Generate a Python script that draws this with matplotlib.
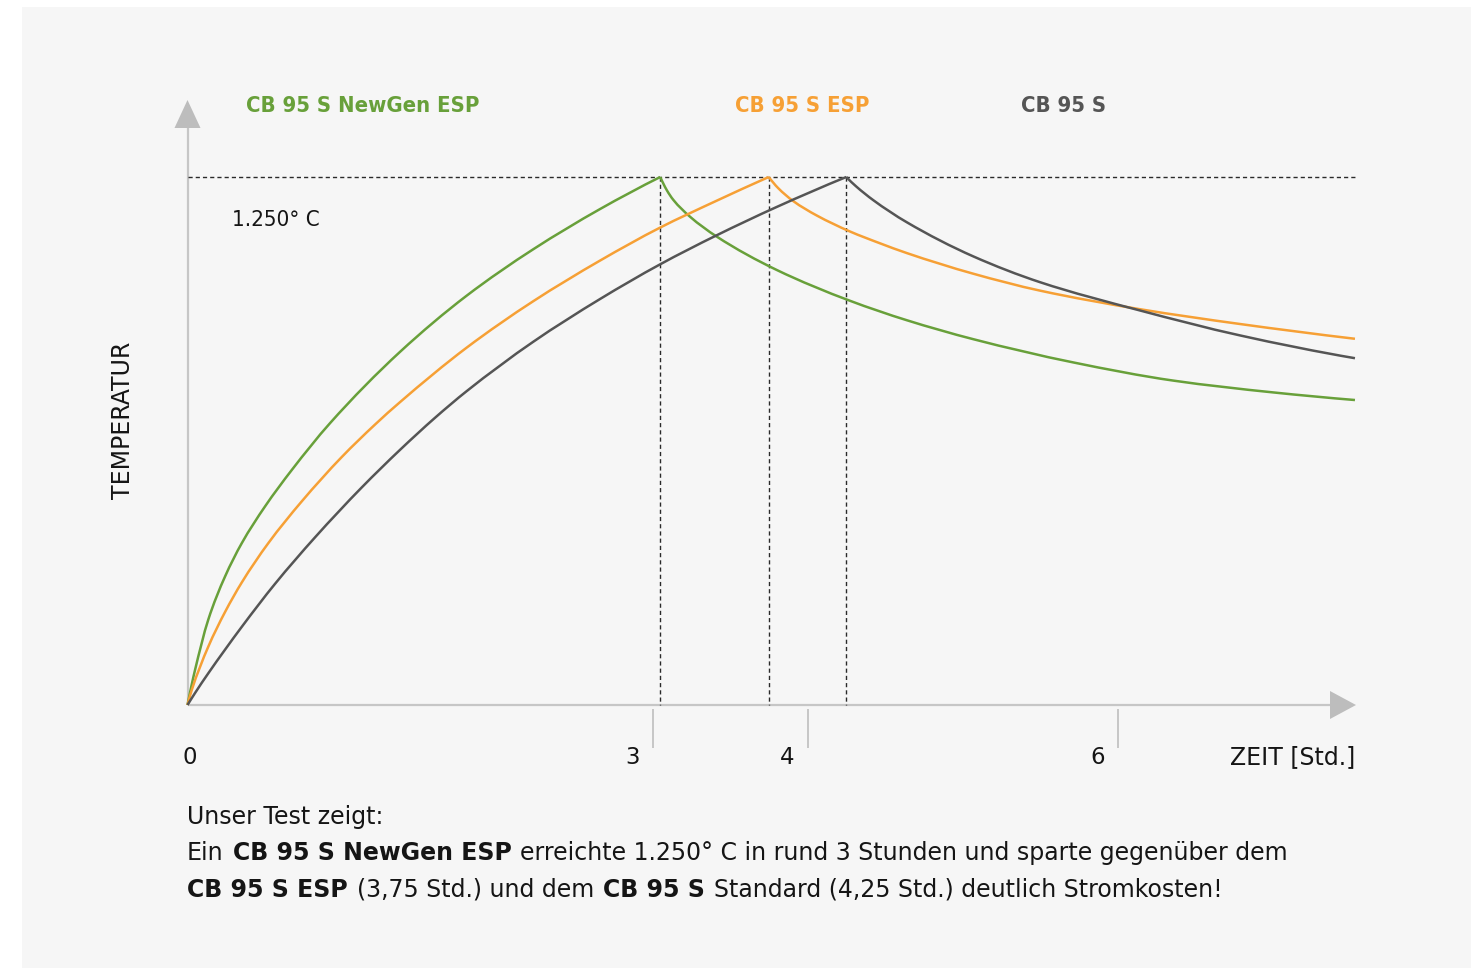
import numpy as np
import matplotlib
matplotlib.use("Agg")
import matplotlib.pyplot as plt
from matplotlib.patches import Rectangle, Polygon, PathPatch
from matplotlib.path import Path
from matplotlib import transforms
from matplotlib import font_manager as fm

# ---------------------------------------------------------------------------
# Data: kiln temperature (°C) over time (hours) for three kiln models
# ---------------------------------------------------------------------------
SERIES = ["CB 95 S NewGen ESP", "CB 95 S ESP", "CB 95 S"]
TARGET_TEMP = 1250
PEAK_TIMES = [3.05, 3.75, 4.25]

newgen_heat_t = [0, 0.027, 0.048, 0.134, 0.242, 0.350, 0.500, 0.672, 0.919,
                 1.371, 1.801, 2.231, 2.661, 3.05]
newgen_heat_T = [0, 48, 82, 202, 304, 383, 470, 556, 667,
                 836, 969, 1079, 1174, 1250]
newgen_cool_t = [3.05, 3.092, 3.134, 3.242, 3.414, 3.801, 4.274,
                 4.640, 5.070, 5.715, 6.360, 7.005, 7.532]
newgen_cool_T = [1250, 1219, 1196, 1156, 1109, 1030, 957,
                 911, 866, 811, 768, 740, 722]

esp_heat_t = [0, 0.027, 0.134, 0.242, 0.350, 0.521, 0.737, 0.995, 1.210,
              1.371, 1.801, 2.231, 2.661, 3.048, 3.403, 3.75]
esp_heat_T = [0, 35, 138, 220, 290, 383, 482, 587, 664,
              717, 846, 956, 1052, 1130, 1192, 1250]
esp_cool_t = [3.75, 3.810, 3.908, 4.059, 4.274, 4.468, 4.640, 5.070,
              5.500, 6.145, 6.790, 7.532]
esp_cool_T = [1250, 1224, 1193, 1159, 1121, 1093, 1070, 1021,
              981, 937, 902, 867]

std_heat_t = [0, 0.048, 0.134, 0.350, 0.565, 0.823, 1.124, 1.371, 1.597,
              1.801, 2.231, 2.661, 3.048, 3.414, 3.801, 4.25]
std_heat_T = [0, 28, 75, 185, 287, 397, 515, 604, 680,
              743, 860, 961, 1043, 1112, 1179, 1250]
std_cool_t = [4.25, 4.313, 4.425, 4.640, 5.070, 5.500, 6.145, 6.790, 7.532]
std_cool_T = [1250, 1228, 1195, 1143, 1062, 1001, 934, 875, 821]

X_TICKS = [0, 3, 4, 6]
X_LABEL = "ZEIT [Std.]"
Y_LABEL = "TEMPERATUR"

# ---------------------------------------------------------------------------
# Styling / layout
# ---------------------------------------------------------------------------
W, H, DPI = 1471, 968, 100
COLORS = ["#68a03a", "#f6a035", "#555555"]
AXIS_COLOR = "#c6c6c6"
ARROW_COLOR = "#bdbdbd"
TEXT_COLOR = "#151515"
PANEL_COLOR = "#f6f6f6"
FS = 17.0          # axis labels and caption
FS_TICK = 16.5

plt.rcParams["font.family"] = ["DejaVu Sans"]
plt.rcParams["lines.scale_dashes"] = False

# narrower face for the series names and the temperature mark
_cond = fm.findfont(fm.FontProperties(family="DejaVu Sans", weight="bold",
                                      stretch="condensed"))
if "Condensed" in _cond:
    NAME_KW = dict(fontsize=15.8, fontweight="bold", fontstretch="condensed")
    TEMP_KW = dict(fontsize=16.0, fontstretch="condensed")
else:
    NAME_KW = dict(fontsize=14.4, fontweight="bold")
    TEMP_KW = dict(fontsize=14.7)


def smooth_path(x, y):
    """Monotone cubic (Fritsch-Carlson) path through the given points,
    expressed as cubic Bezier segments."""
    x = np.asarray(x, float)
    y = np.asarray(y, float)
    h = np.diff(x)
    d = np.diff(y) / h
    n = len(x)
    m = np.zeros(n)
    for k in range(1, n - 1):
        if d[k - 1] * d[k] > 0:
            w1 = 2 * h[k] + h[k - 1]
            w2 = h[k] + 2 * h[k - 1]
            m[k] = (w1 + w2) / (w1 / d[k - 1] + w2 / d[k])

    def end_slope(h0, h1, d0, d1):
        s = ((2 * h0 + h1) * d0 - h0 * d1) / (h0 + h1)
        if np.sign(s) != np.sign(d0):
            return 0.0
        if np.sign(d0) != np.sign(d1) and abs(s) > abs(3 * d0):
            return 3 * d0
        return s

    m[0] = end_slope(h[0], h[1], d[0], d[1])
    m[-1] = end_slope(h[-1], h[-2], d[-1], d[-2])
    verts = [(x[0], y[0])]
    codes = [Path.MOVETO]
    for k in range(n - 1):
        dx = h[k] / 3.0
        verts += [(x[k] + dx, y[k] + m[k] * dx),
                  (x[k + 1] - dx, y[k + 1] - m[k + 1] * dx),
                  (x[k + 1], y[k + 1])]
        codes += [Path.CURVE4] * 3
    return Path(verts, codes)


fig = plt.figure(figsize=(W / DPI, H / DPI), dpi=DPI, facecolor="white")
fig.patches.append(Rectangle((22 / W, 0), 1 - 22 / W, 1 - 7 / H,
                             transform=fig.transFigure, facecolor=PANEL_COLOR,
                             edgecolor="none", zorder=-10))

# plotting area: time 0 at x=187.5 px, 155 px per hour; 0 °C at y=705 px,
# 1250 °C at y=177 px
PX_PER_HOUR = 155.0
PX_PER_DEG = 528.0 / TARGET_TEMP
x0_px, x1_px, ytop_px, y0_px = 187.5, 1360.0, 90.0, 705.0
ax = fig.add_axes([x0_px / W, (H - y0_px) / H, (x1_px - x0_px) / W,
                   (y0_px - ytop_px) / H])
ax.set_xlim(0, (x1_px - x0_px) / PX_PER_HOUR)
ax.set_ylim(0, (y0_px - ytop_px) / PX_PER_DEG)
ax.patch.set_visible(False)
for s in ax.spines.values():
    s.set_visible(False)
ax.set_yticks([])

hx = 1.0 / PX_PER_HOUR   # one pixel in hours
hy = 1.0 / PX_PER_DEG    # one pixel in degrees

# axes lines with arrow heads
y_arrow_tip = (y0_px - 100) * hy
y_arrow_base = (y0_px - 128) * hy
x_arrow_tip = (1356 - x0_px) * hx
x_arrow_base = (1330 - x0_px) * hx
ax.plot([0, 0], [0, y_arrow_base], color=AXIS_COLOR, lw=1.6,
        solid_capstyle="butt", clip_on=False, zorder=1)
ax.plot([0, x_arrow_base], [0, 0], color=AXIS_COLOR, lw=1.6,
        solid_capstyle="butt", clip_on=False, zorder=1)
ax.add_patch(Polygon([(-13 * hx, y_arrow_base), (13 * hx, y_arrow_base),
                      (0, y_arrow_tip)], closed=True, facecolor=ARROW_COLOR,
                     edgecolor="none", clip_on=False, zorder=1))
ax.add_patch(Polygon([(x_arrow_base, 14 * hy), (x_arrow_base, -14 * hy),
                      (x_arrow_tip, 0)], closed=True, facecolor=ARROW_COLOR,
                     edgecolor="none", clip_on=False, zorder=1))

# ticks below the time axis
ax.set_xticks([t for t in X_TICKS if t > 0])
ax.spines["bottom"].set_position(("outward", 3))
ax.tick_params(axis="x", direction="out", length=39 * 0.72, width=1.4,
               color=AXIS_COLOR, labelbottom=False)
for t in X_TICKS:
    dx = 2.5 if t == 0 else -20
    tr = transforms.offset_copy(ax.transData, fig=fig, x=dx * 0.72,
                                y=-59 * 0.72, units="points")
    ax.text(t, 0, str(t), transform=tr, ha="center", va="baseline",
            fontsize=FS_TICK, color=TEXT_COLOR)
tr = transforms.offset_copy(ax.transData, fig=fig, x=0, y=-59 * 0.72,
                            units="points")
ax.text((1355 - x0_px) * hx, 0, X_LABEL, transform=tr, ha="right",
        va="baseline", fontsize=FS, color=TEXT_COLOR)
fig.text(123.3 / W, 1 - 420 / H, Y_LABEL, rotation=90, ha="center",
         va="center", fontsize=FS, color=TEXT_COLOR)

# reference lines for the target temperature
ax.plot([0, (1357 - x0_px) * hx], [TARGET_TEMP, TARGET_TEMP],
        color="#2a2a2a", lw=1.0, dashes=(3.0, 2.2), clip_on=False, zorder=2)
for pt in PEAK_TIMES:
    ax.plot([pt, pt], [TARGET_TEMP, 0], color="#2a2a2a", lw=1.0,
            dashes=(3.0, 2.2), clip_on=False, zorder=2)

temp_label = f"{TARGET_TEMP:,}".replace(",", ".") + "° C"
fig.text(231.7 / W, 1 - 225.7 / H, temp_label, ha="left", va="baseline",
         color=TEXT_COLOR, **TEMP_KW)

# curves: heating and cooling phases drawn as smooth segments
phases = [
    [(newgen_heat_t, newgen_heat_T), (newgen_cool_t, newgen_cool_T)],
    [(esp_heat_t, esp_heat_T), (esp_cool_t, esp_cool_T)],
    [(std_heat_t, std_heat_T), (std_cool_t, std_cool_T)],
]
for parts, c in zip(phases, COLORS):
    for t, T in parts:
        ax.add_patch(PathPatch(smooth_path(t, T), facecolor="none",
                               edgecolor=c, lw=1.8, capstyle="butt",
                               joinstyle="round", clip_on=False, zorder=3))

# series names above the plot
name_x = [246, 735, 1021]
for name, c, x in zip(SERIES, COLORS, name_x):
    fig.text(x / W, 1 - 111.7 / H, name, ha="left", va="baseline",
             color=c, **NAME_KW)

# caption with mixed weights
renderer = fig.canvas.get_renderer()


def measure(s, weight):
    t = fig.text(0, 0, s, fontsize=FS, fontweight=weight)
    w = t.get_window_extent(renderer=renderer).width
    t.remove()
    return w


def rich_line(x_px, base_px, pieces):
    x = x_px
    for s, weight in pieces:
        space = measure("x x", weight) - measure("xx", weight)
        core = s.strip(" ")
        lead = len(s) - len(s.lstrip(" "))
        trail = len(s) - len(s.rstrip(" "))
        x += lead * (space + 1.5)
        fig.text(x / W, 1 - base_px / H, core, fontsize=FS, fontweight=weight,
                 ha="left", va="baseline", color=TEXT_COLOR)
        x += measure(core, weight) + trail * (space + 1.5)


def hours(v):
    return f"{v:.2f}".replace(".", ",")


rich_line(187, 824.3, [("Unser Test zeigt:", "normal")])
rich_line(187, 860.0, [
    ("Ein ", "normal"), (SERIES[0], "bold"),
    (f" erreichte {temp_label} in rund {round(PEAK_TIMES[0])} Stunden und "
     "sparte gegenüber dem", "normal")])
rich_line(187, 896.7, [
    (SERIES[1], "bold"), (f" ({hours(PEAK_TIMES[1])} Std.) und dem ", "normal"),
    (SERIES[2], "bold"),
    (f" Standard ({hours(PEAK_TIMES[2])} Std.) deutlich Stromkosten!", "normal")])

fig.savefig("out.png", dpi=DPI, facecolor=fig.get_facecolor())
